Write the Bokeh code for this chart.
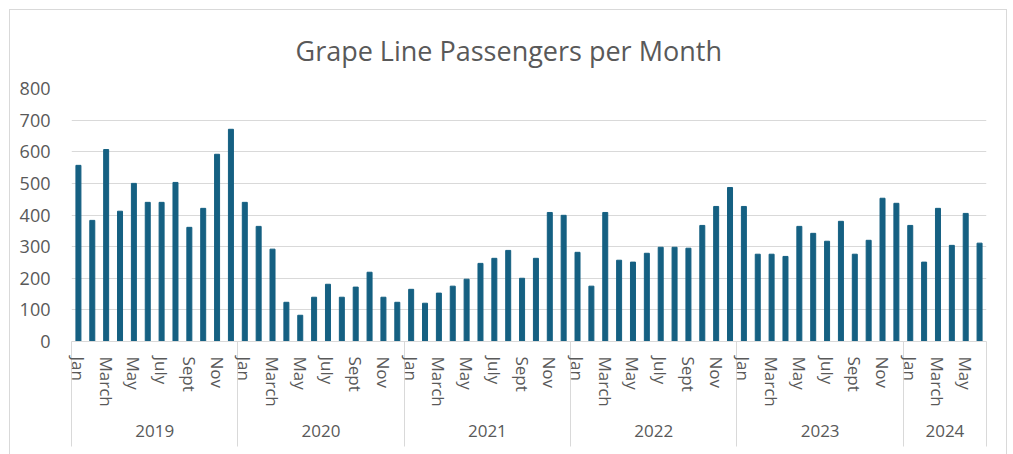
from bokeh.plotting import figure
from bokeh.models import ColumnDataSource, Range1d, FixedTicker, LinearAxis
from bokeh.embed import file_html
from bokeh.resources import INLINE

# Monthly passenger counts, one list per year (2024 runs through June)
years = ["2019", "2020", "2021", "2022", "2023", "2024"]
p2019 = [557, 383, 607, 412, 500, 440, 440, 503, 361, 421, 592, 671]
p2020 = [440, 364, 292, 124, 83, 140, 181, 140, 172, 219, 140, 124]
p2021 = [165, 121, 153, 175, 197, 247, 263, 288, 200, 263, 408, 399]
p2022 = [282, 175, 408, 257, 251, 279, 298, 298, 295, 367, 427, 487]
p2023 = [427, 276, 276, 269, 364, 342, 317, 380, 276, 320, 453, 437]
p2024 = [367, 251, 421, 304, 405, 311]
month_names = ["Jan", "Feb", "March", "April", "May", "June",
               "July", "Aug", "Sept", "Oct", "Nov", "Dec"]
y_ticks = [0, 100, 200, 300, 400, 500, 600, 700, 800]

series = [p2019, p2020, p2021, p2022, p2023, p2024]

xs, vals, labels = [], [], []
starts, counts = [], []
i = 0
for yr, data in zip(years, series):
    starts.append(i)
    counts.append(len(data))
    for m, v in enumerate(data):
        xs.append(i)
        vals.append(v)
        labels.append(month_names[m])
        i += 1
n = len(xs)

src = ColumnDataSource(dict(x=xs, top=vals, month=labels))

TEXT = "#595959"
GRID = "#D9D9D9"
FONT = "Open Sans"
SEP = 105  # length of the year separators below the axis line

p = figure(width=998, height=446, output_backend="svg", toolbar_location=None,
           x_range=Range1d(-0.5, n - 0.5), y_range=Range1d(0, 800),
           min_border_left=61, min_border_right=22, min_border_top=78,
           min_border_bottom=115, x_axis_location=None)
p.margin = (9, 0, 0, 9)
p.styles = {"border": "1px solid #D9D9D9"}

p.vbar(x="x", top="top", width=0.36, source=src, color="#156082")

# title
p.title.text = "Grape Line Passengers per Month"
p.title.align = "left"
p.title.offset = 224
p.title.text_font = FONT
p.title.text_font_size = "27px"
p.title.text_font_style = "normal"
p.title.text_color = TEXT
p.title.standoff = 39

# value axis
p.yaxis.ticker = FixedTicker(ticks=y_ticks)
p.yaxis.axis_line_color = None
p.yaxis.major_tick_line_color = None
p.yaxis.minor_tick_line_color = None
p.yaxis.major_label_text_font = FONT
p.yaxis.major_label_text_font_size = "18px"
p.yaxis.major_label_text_color = TEXT
p.yaxis.major_label_standoff = 15
p.ygrid.grid_line_color = GRID
p.ygrid.ticker = FixedTicker(ticks=y_ticks)

# month axis: every other month labelled, year boundaries as long minor ticks
month_ticks = [x for x in xs if labels[x] in ("Jan", "March", "May", "July", "Sept", "Nov")]
boundaries = [s - 0.5 for s in starts] + [n - 0.5]
month_axis = LinearAxis(
    ticker=FixedTicker(ticks=month_ticks, minor_ticks=boundaries),
    major_label_overrides={x: labels[x] for x in month_ticks},
    major_label_orientation="vertical",
    major_tick_out=0, major_tick_in=0,
    minor_tick_out=SEP, minor_tick_in=0,
    minor_tick_line_color=GRID,
    axis_line_color=GRID,
    major_label_standoff=15 - SEP,
    major_label_text_font=FONT,
    major_label_text_font_size="17px",
    major_label_text_color=TEXT,
)
p.add_layout(month_axis, "below")

# year axis beneath the months
centers = [s + (c - 1) / 2 for s, c in zip(starts, counts)]
year_axis = LinearAxis(
    ticker=FixedTicker(ticks=centers, minor_ticks=[]),
    major_label_overrides={c: yr for c, yr in zip(centers, years)},
    major_tick_out=0, major_tick_in=0,
    minor_tick_line_color=None,
    major_tick_line_color=None,
    axis_line_color=None,
    major_label_standoff=15,
    major_label_text_font=FONT,
    major_label_text_font_size="17px",
    major_label_text_color=TEXT,
)
p.add_layout(year_axis, "below")

p.xgrid.visible = False
p.outline_line_color = None
p.background_fill_color = "white"
p.border_fill_color = "white"

open("out.html", "w").write(file_html(p, INLINE))
